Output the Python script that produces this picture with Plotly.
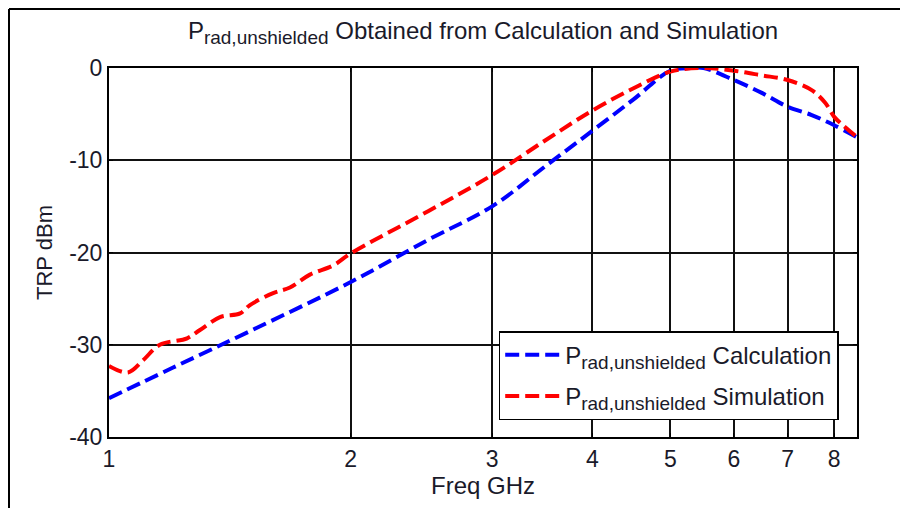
import plotly.graph_objects as go
import math

# Calculation (blue)
calc_freq = [1.0, 1.2, 1.5, 2.0, 2.5, 3.0, 3.5, 4.0, 4.5, 5.0, 5.3, 5.5, 6.0, 6.5, 7.0, 7.5, 8.0, 8.54]
calc_trp = [-35.8, -32.5, -28.5, -23.2, -18.6, -15.0, -10.6, -6.8, -3.4, -0.3, 0.0, 0.0, -1.3, -2.7, -4.2, -5.1, -6.2, -7.5]

# Simulation (red)
sim_freq = [1.0, 1.056, 1.102, 1.157, 1.251, 1.298, 1.375, 1.456, 1.498, 1.601, 1.68, 1.779, 1.902, 2.0,
            2.5, 3.0, 3.5, 4.0, 4.5, 5.0, 5.5, 6.0, 6.5, 7.0, 7.5, 7.8, 8.0, 8.2, 8.54]
sim_trp = [-32.3, -33.0, -31.7, -30.0, -29.3, -28.4, -27.0, -26.6, -25.7, -24.4, -23.8, -22.4, -21.4, -20.1,
           -15.5, -11.6, -7.8, -4.6, -2.2, -0.4, 0.0, -0.3, -0.8, -1.3, -2.4, -3.8, -5.3, -6.2, -7.5]

x_ticks = [1, 2, 3, 4, 5, 6, 7, 8]
y_ticks = [-40, -30, -20, -10, 0]
y_ticktext = ["-40", "-30", "-20", "-10", "0"]

FONT = "Liberation Sans, Arial, sans-serif"
TXT = "#1a1a2a"
SUB = "<sub><span style='font-size:19px'>rad,unshielded</span></sub>"

fig = go.Figure()
fig.add_trace(go.Scatter(x=calc_freq, y=calc_trp, mode="lines",
                         name="P" + SUB + " Calculation", legendgroup="calc",
                         line=dict(color="#0000ff", width=4, dash="14px,6px"), line_shape="spline"))
fig.add_trace(go.Scatter(x=sim_freq, y=sim_trp, mode="lines",
                         name="P" + SUB + " Simulation", legendgroup="sim",
                         line=dict(color="#ff0000", width=4, dash="14px,6px"), line_shape="spline"))

axis_common = dict(showline=True, linecolor="black", linewidth=2, mirror="ticks",
                   showgrid=True, gridcolor="#111111", gridwidth=1.5,
                   ticks="inside", ticklen=4, tickcolor="black", zeroline=False,
                   tickfont=dict(family=FONT, size=23, color=TXT))

fig.update_layout(
    width=900, height=508,
    margin=dict(l=109, r=43, t=68, b=71),
    paper_bgcolor="white", plot_bgcolor="white",
    title=dict(text="P" + SUB + " Obtained from Calculation and Simulation",
               x=(109 + 857) / 2 / 900, xanchor="center", y=0.94, yanchor="middle",
               font=dict(family=FONT, size=24, color=TXT)),
    xaxis=dict(type="log", range=[0, math.log10(8.54)], tickvals=x_ticks,
               ticktext=[str(v) for v in x_ticks],
               title=dict(text="Freq GHz", font=dict(family=FONT, size=24, color=TXT), standoff=2),
               **axis_common),
    yaxis=dict(range=[-40, 0], tickvals=y_ticks, ticktext=y_ticktext,
               title=dict(text="TRP dBm", font=dict(family=FONT, size=22, color=TXT), standoff=10),
               **axis_common),
    legend=dict(x=0.521, y=0.287, xanchor="left", yanchor="top",
                bgcolor="white", bordercolor="black", borderwidth=1.5,
                font=dict(family=FONT, size=24, color=TXT), itemwidth=55,
                traceorder="grouped", tracegroupgap=7),
    showlegend=True,
    hovermode=False,
    shapes=[
        dict(type="line", xref="paper", yref="paper", x0=(9 - 109) / 748, x1=(900 - 109) / 748,
             y0=(437 - 9) / 369, y1=(437 - 9) / 369, line=dict(color="black", width=2)),
        dict(type="line", xref="paper", yref="paper", x0=(9 - 109) / 748, x1=(9 - 109) / 748,
             y0=(437 - 9) / 369, y1=(437 - 510) / 369, line=dict(color="black", width=2)),
    ],
)

fig.write_html("out.html")
